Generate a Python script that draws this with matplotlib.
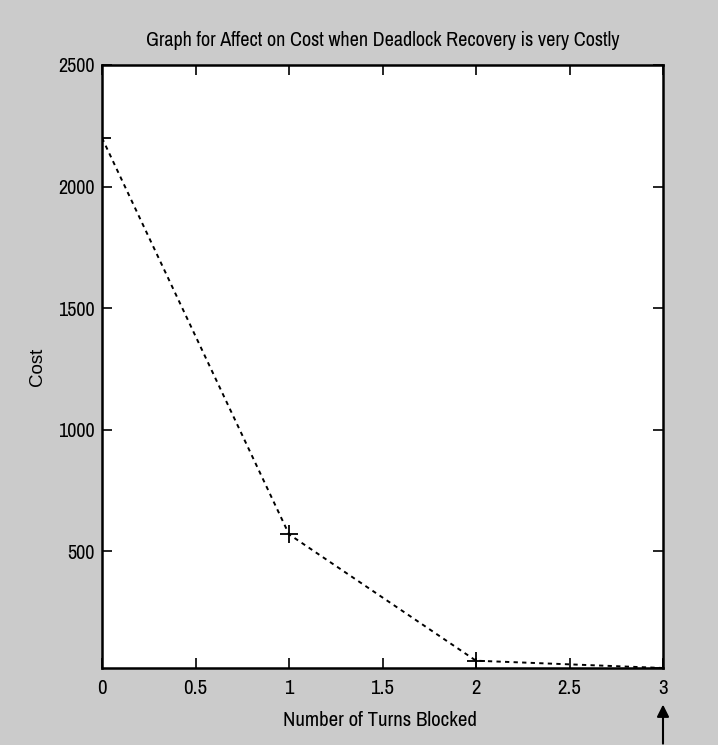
import matplotlib
matplotlib.use("Agg")
import matplotlib.pyplot as plt
import numpy as np

# Data
turns_blocked = [0, 1, 2, 3]
cost = [2200, 570, 50, 20]
x_ticks = [0, 0.5, 1, 1.5, 2, 2.5, 3]
x_tick_labels = ["0", "0.5", "1", "1.5", "2", "2.5", "3"]
y_ticks = [500, 1000, 1500, 2000, 2500]
y_tick_labels = ["500", "1000", "1500", "2000", "2500"]
title = "Graph for Affect on Cost when Deadlock Recovery is very Costly"
xlabel = "Number of Turns Blocked"
ylabel = "Cost"

narrow = ["Archivo Narrow", "DejaVu Sans"]
bg = "#cbcbcb"
fw = "medium"

fig = plt.figure(figsize=(7.18, 7.45), dpi=100, facecolor=bg)
ax = fig.add_axes([102/718, 1-668/745, (663-102)/718, (668-65)/745])
ax.set_facecolor("white")

ax.plot(turns_blocked, cost, linestyle=(0, (2.2, 2.2)), color="black",
        linewidth=1.4, marker="+", markersize=13, markeredgewidth=1.3)

ax.set_xlim(turns_blocked[0], turns_blocked[-1])
ax.set_ylim(min(cost), 2500)
ax.set_xticks(x_ticks)
ax.set_xticklabels(x_tick_labels, family=narrow, fontsize=15, fontweight=fw)
ax.set_yticks(y_ticks)
ax.set_yticklabels(y_tick_labels, family=narrow, fontsize=14.5, fontweight=fw)
ax.tick_params(direction="in", length=7, width=1.2, top=True, right=True)
ax.tick_params(axis="y", pad=5)
ax.tick_params(axis="x", pad=8)
for s in ax.spines.values():
    s.set_linewidth(1.8)

ax.set_title(title, family=narrow, fontsize=14.5, fontweight=fw, pad=14)
ax.set_xlabel(xlabel, family=narrow, fontsize=15, fontweight=fw)
ax.xaxis.set_label_coords(0.495, -0.072)
ax.set_ylabel(ylabel, family=["Liberation Sans", "DejaVu Sans"], fontsize=13.5)
ax.yaxis.set_label_coords(-0.1, 0.5)

# arrow below x=3
ax.annotate("", xy=(turns_blocked[-1], -0.056), xytext=(turns_blocked[-1], -0.13),
            xycoords=("data", "axes fraction"), textcoords=("data", "axes fraction"),
            arrowprops=dict(arrowstyle="-|>", color="black", lw=1.5,
                            mutation_scale=18), annotation_clip=False)

fig.savefig("out.png", dpi=100, facecolor=bg)
